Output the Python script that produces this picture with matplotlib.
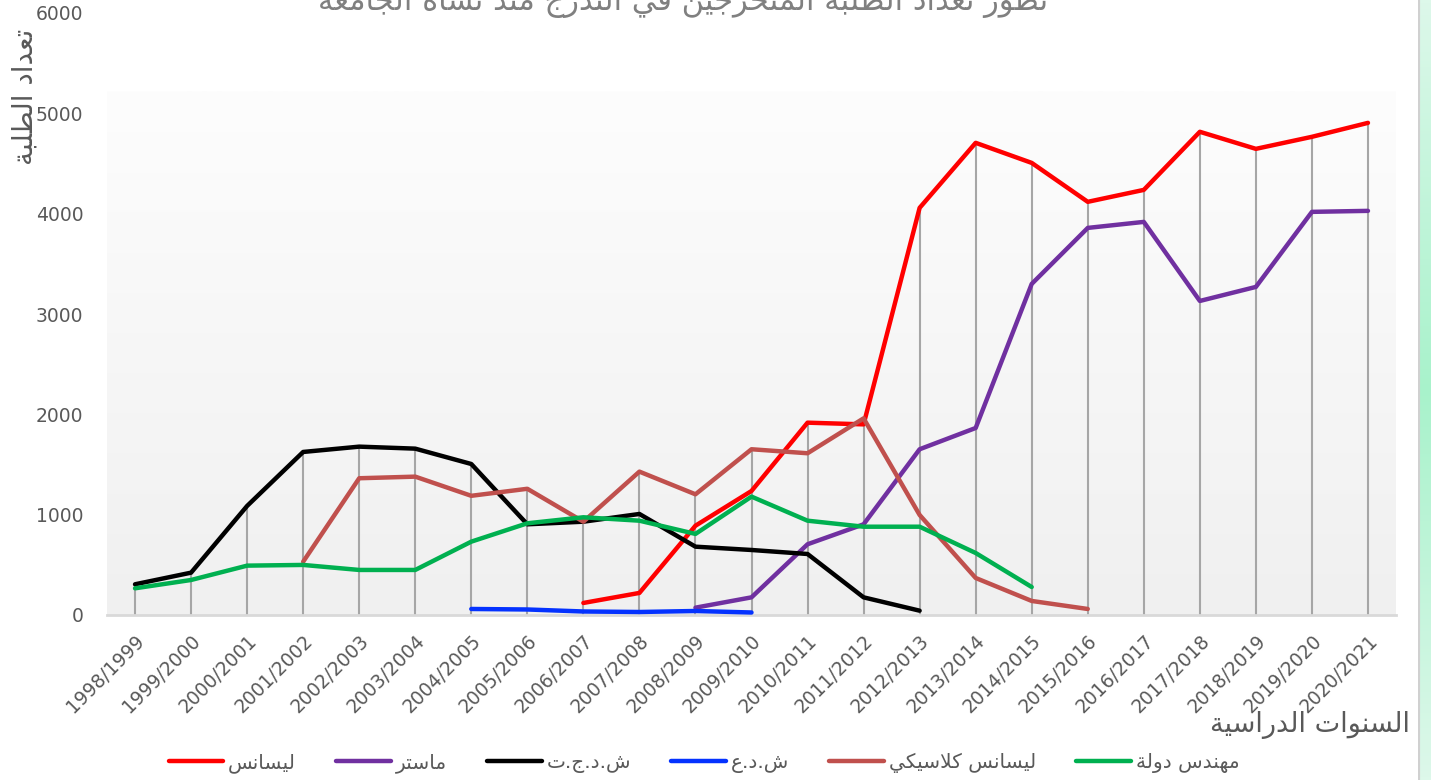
import numpy as np
import matplotlib
matplotlib.use("Agg")
import matplotlib.pyplot as plt
from matplotlib.colors import LinearSegmentedColormap

nan = np.nan

years = ["1998/1999", "1999/2000", "2000/2001", "2001/2002", "2002/2003", "2003/2004",
         "2004/2005", "2005/2006", "2006/2007", "2007/2008", "2008/2009", "2009/2010",
         "2010/2011", "2011/2012", "2012/2013", "2013/2014", "2014/2015", "2015/2016",
         "2016/2017", "2017/2018", "2018/2019", "2019/2020", "2020/2021"]

licence = [nan, nan, nan, nan, nan, nan, nan, nan, 120, 220, 890, 1236, 1917, 1900,
           4058, 4706, 4506, 4118, 4237, 4816, 4646, 4766, 4905]
master = [nan, nan, nan, nan, nan, nan, nan, nan, nan, nan, 73, 176, 705, 904,
          1652, 1864, 3300, 3858, 3918, 3130, 3270, 4018, 4028]
dejt = [306, 422, 1087, 1625, 1678, 1658, 1505, 904, 930, 1007, 681, 648, 608, 176,
        43, nan, nan, nan, nan, nan, nan, nan, nan]
dea = [nan, nan, nan, nan, nan, nan, 60, 55, 35, 30, 40, 25, nan, nan,
       nan, nan, nan, nan, nan, nan, nan, nan, nan]
classic = [nan, nan, nan, 531, 1363, 1379, 1188, 1258, 930, 1429, 1203, 1652, 1612, 1960,
           997, 369, 140, 60, nan, nan, nan, nan, nan]
ingenieur = [266, 349, 492, 499, 449, 449, 731, 914, 974, 940, 808, 1180, 940, 880,
             880, 618, 279, nan, nan, nan, nan, nan, nan]

names = ["ليسانس", "ماستر", "ش.د.ج.ت", "ش.د.ع", "ليسانس كلاسيكي", "مهندس دولة"]
colors = ["#FF0000", "#7030A0", "#000000", "#0432FF", "#C0504D", "#00B050"]
series = [licence, master, dejt, dea, classic, ingenieur]

title = "تطور تعداد الطلبة المتخرجين في التدرج منذ نشأة الجامعة"
xlab = "السنوات الدراسية"
ylab = "تعداد الطلبة"


# no arabic shaping in matplotlib, so pick presentation forms by hand
FOUR = {'ب': 0xFE8F, 'ت': 0xFE95, 'ج': 0xFE9D, 'ح': 0xFEA1, 'خ': 0xFEA5, 'س': 0xFEB1,
        'ش': 0xFEB5, 'ط': 0xFEC1, 'ع': 0xFEC9, 'ف': 0xFED1, 'ق': 0xFED5, 'ك': 0xFED9,
        'ل': 0xFEDD, 'م': 0xFEE1, 'ن': 0xFEE5, 'ه': 0xFEE9, 'ي': 0xFEF1}
TWO = {'ا': 0xFE8D, 'أ': 0xFE83, 'ة': 0xFE93, 'د': 0xFEA9, 'ذ': 0xFEAB, 'ر': 0xFEAD,
       'ز': 0xFEAF, 'و': 0xFEED, 'ى': 0xFEEF, '\u0000': 0xFEFB}


def shape(s):
    s = s.replace('لا', '\u0000')
    out = []
    for i, c in enumerate(s):
        prev = s[i - 1] if i > 0 else ''
        nxt = s[i + 1] if i + 1 < len(s) else ''
        jp = prev in FOUR
        if c in FOUR:
            jn = nxt in FOUR or nxt in TWO
            base = FOUR[c]
            if jp and jn:
                out.append(chr(base + 3))
            elif jp:
                out.append(chr(base + 1))
            elif jn:
                out.append(chr(base + 2))
            else:
                out.append(chr(base))
        elif c in TWO:
            out.append(chr(TWO[c] + (1 if jp else 0)))
        else:
            out.append(c)
    return ''.join(out)[::-1]


plt.rcParams['font.family'] = ['DejaVu Sans']
txt = "#595959"

fig = plt.figure(figsize=(14.31, 7.80), dpi=100)
ax = fig.add_axes([107 / 1431, 1 - 615 / 780, (1396 - 107) / 1431, (615 - 13) / 780])

x = np.arange(len(years))
ax.set_xlim(-0.5, len(years) - 0.5)
ax.set_ylim(0, 6000)

# plot area gradient
cmap = LinearSegmentedColormap.from_list("bg", ["#F0F0F0", "#FDFDFD"])
grad = np.linspace(0, 1, 256).reshape(-1, 1)
ax.imshow(grad, extent=[-0.5, len(years) - 0.5, 0, 5214], origin="lower", aspect="auto",
          cmap=cmap, zorder=0)

# drop lines down from the highest point
arr = np.array(series, dtype=float)
tops = np.nanmax(arr, axis=0)
ax.vlines(x, 0, tops, color="#A6A6A6", lw=1.5, zorder=1)

for vals, c, n in zip(series, colors, names):
    ax.plot(x, vals, color=c, lw=3.2, label=shape(n), zorder=3, solid_capstyle="round")

ax.set_xticks(x)
ax.set_xticklabels(years, rotation=45, ha="right", rotation_mode="anchor", fontsize=13.5, color=txt)
ax.set_yticks(range(0, 6001, 1000))
ax.set_yticklabels([str(v) for v in range(0, 6001, 1000)], fontsize=13.5, color=txt)
ax.tick_params(axis="both", length=0)
ax.tick_params(axis="y", pad=17)
ax.tick_params(axis="x", pad=12)
for sp in ["top", "left", "right"]:
    ax.spines[sp].set_visible(False)
ax.spines["bottom"].set_color("#D9D9D9")
ax.spines["bottom"].set_linewidth(2)
ax.spines["bottom"].set_zorder(2)

fig.text(0.477, 1 - 10 / 780, shape(title), ha="center", va="baseline", fontsize=22, color="#808080")
fig.text(0.0175, 0.876, shape(ylab), rotation=90, ha="center", va="center", fontsize=20, color=txt)
fig.text(1410 / 1431, 1 - 725 / 780, shape(xlab), ha="right", va="center", fontsize=19.5, color=txt)

fig.legend(loc="center", bbox_to_anchor=(0.492, 1 - 763 / 780), ncol=6, frameon=False,
           fontsize=14.5, labelcolor=txt, handlelength=2.7, handletextpad=0.25, columnspacing=2.0)

# green strip on the right edge
side = fig.add_axes([1418 / 1431, 0, 13 / 1431, 1])
scm = LinearSegmentedColormap.from_list("side", ["#DDF8EA", "#A8F2CB", "#DDF8EA"])
side.imshow(np.linspace(0, 1, 256).reshape(-1, 1), aspect="auto", cmap=scm)
side.axvline(-0.5, color="#D0D0D0", lw=3)
side.axis("off")

fig.savefig("out.png", dpi=100)
